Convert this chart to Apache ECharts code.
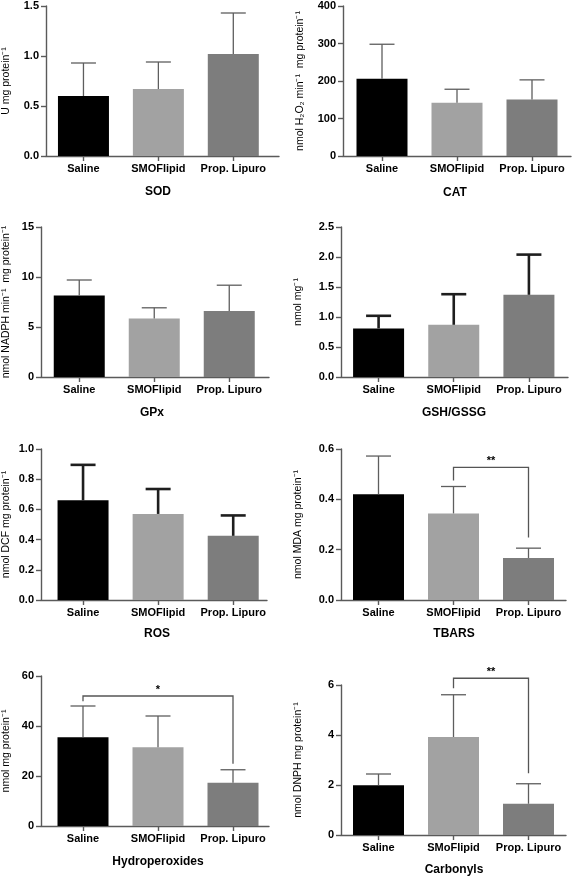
<!DOCTYPE html>
<html><head><meta charset="utf-8">
<script src="https://cdn.jsdelivr.net/npm/echarts@6/dist/echarts.min.js"></script>
<style>html,body{margin:0;padding:0;background:#fff}#c{width:572px;height:879px}</style>
</head><body><div id="c"></div><script>
// ---------- data ----------
const categories = ['Saline', 'SMOFlipid', 'Prop. Lipuro'];
const categoriesCarbonyls = ['Saline', 'SMoFlipid', 'Prop. Lipuro'];
const panelTitles = ['SOD', 'CAT', 'GPx', 'GSH/GSSG', 'ROS', 'TBARS', 'Hydroperoxides', 'Carbonyls'];
const yNames = ['U mg protein⁻¹', 'nmol H₂O₂ min⁻¹  mg protein⁻¹', 'nmol NADPH min⁻¹  mg protein⁻¹', 'nmol mg⁻¹',
  'nmol DCF mg protein⁻¹', 'nmol MDA mg protein⁻¹', 'nmol mg protein⁻¹', 'nmol DNPH mg protein⁻¹'];
const yMax = [1.5, 400, 15, 2.5, 1.0, 0.6, 60, 6];
const yStep = [0.5, 100, 5, 0.5, 0.2, 0.2, 20, 2];
const yDecimals = [1, 0, 0, 1, 1, 1, 0, 0];

const sodMean = [0.60, 0.67, 1.02];       const sodSD = [0.33, 0.27, 0.41];
const catMean = [206, 142, 151];          const catSD = [92, 36, 52];
const gpxMean = [8.15, 5.85, 6.6];        const gpxSD = [1.55, 1.07, 2.58];
const gshMean = [0.81, 0.87, 1.37];       const gshSD = [0.21, 0.51, 0.67];
const rosMean = [0.66, 0.57, 0.425];      const rosSD = [0.235, 0.165, 0.135];
const tbarsMean = [0.42, 0.344, 0.167];   const tbarsSD = [0.152, 0.107, 0.039];
const hydroMean = [35.5, 31.5, 17.3];     const hydroSD = [12.5, 12.5, 5.2];
const carbMean = [1.99, 3.92, 1.25];      const carbSD = [0.45, 1.69, 0.80];

// significance brackets: [fromCategory, toCategory, topValue, leftEndValue, rightEndValue]
const tbarsBracket = [2, 3, 0.527, 0.475, 0.248];     const tbarsStars = '**';
const hydroBracket = [1, 3, 52, 49.9, 24.9];          const hydroStars = '*';
const carbBracket = [2, 3, 6.27, 5.87, 2.47];         const carbStars = '**';

// ---------- styling / layout ----------
const barColors = ['#000000', '#a2a2a2', '#7d7d7d'];
const FONT = "'Liberation Sans', Arial, sans-serif";
const panels = [
  { mean: sodMean, sd: sodSD, cats: categories, left: 46, top: 6, width: 233, height: 150, xmin: 0.5, xmax: 3.61, gap: 34, eb: 'thin', tx: 158, ty: 192 },
  { mean: catMean, sd: catSD, cats: categories, left: 343, top: 6, width: 228, height: 150, xmin: 0.48, xmax: 3.52, gap: 37, eb: 'thin', tx: 455, ty: 193 },
  { mean: gpxMean, sd: gpxSD, cats: categories, left: 41, top: 227, width: 228, height: 150, xmin: 0.49, xmax: 3.53, gap: 29, eb: 'thin', tx: 152, ty: 413 },
  { mean: gshMean, sd: gshSD, cats: categories, left: 341, top: 227, width: 227, height: 150, xmin: 0.5, xmax: 3.52, gap: 37, eb: 'thick', tx: 454, ty: 413 },
  { mean: rosMean, sd: rosSD, cats: categories, left: 41, top: 449, width: 226, height: 151, xmin: 0.44, xmax: 3.45, gap: 29, eb: 'thick', tx: 157, ty: 634 },
  { mean: tbarsMean, sd: tbarsSD, cats: categories, left: 341, top: 449, width: 225, height: 151, xmin: 0.5, xmax: 3.5, gap: 37, eb: 'thin', tx: 454, ty: 634, bracket: tbarsBracket, stars: tbarsStars },
  { mean: hydroMean, sd: hydroSD, cats: categories, left: 41, top: 676, width: 228, height: 150, xmin: 0.44, xmax: 3.48, gap: 29, eb: 'thin', tx: 158, ty: 862, bracket: hydroBracket, stars: hydroStars },
  { mean: carbMean, sd: carbSD, cats: categoriesCarbonyls, left: 341, top: 685, width: 225, height: 150, xmin: 0.5, xmax: 3.5, gap: 37, eb: 'thin', tx: 454, ty: 870, bracket: carbBracket, stars: carbStars }
];

const AXIS_COLOR = '#5a5a5a';
const grids = [], xAxes = [], yAxes = [], series = [], graphics = [];

panels.forEach((p, i) => {
  grids.push({ left: p.left, top: p.top, width: p.width, height: p.height, containLabel: false });
  const cats = p.cats;
  xAxes.push({
    type: 'value', gridIndex: i, min: p.xmin, max: p.xmax,
    axisLine: { show: true, onZero: false, lineStyle: { color: AXIS_COLOR, width: 1.4 } },
    axisTick: { show: true, customValues: [1, 2, 3], length: 5, lineStyle: { color: AXIS_COLOR, width: 1.4 } },
    axisLabel: { customValues: [1, 2, 3], formatter: v => cats[Math.round(v) - 1] || '', margin: 7,
      color: '#000', fontFamily: FONT, fontWeight: 'bold', fontSize: 11 },
    splitLine: { show: false }
  });
  yAxes.push({
    type: 'value', gridIndex: i, min: 0, max: yMax[i], interval: yStep[i],
    name: yNames[i], nameLocation: 'middle', nameGap: p.gap, nameRotate: 90,
    nameTextStyle: { color: '#000', fontFamily: FONT, fontSize: 10.5 },
    axisLine: { show: true, lineStyle: { color: AXIS_COLOR, width: 1.4 } },
    axisTick: { show: true, length: 5, lineStyle: { color: AXIS_COLOR, width: 1.4 } },
    axisLabel: { margin: 7, color: '#000', fontFamily: FONT, fontWeight: 'bold', fontSize: 11,
      formatter: v => v.toFixed(yDecimals[i]) },
    splitLine: { show: false }
  });
  series.push({
    type: 'bar', xAxisIndex: i, yAxisIndex: i, barWidth: 51, silent: true,
    data: p.mean.map((v, k) => ({ value: [k + 1, v], itemStyle: { color: barColors[k] } }))
  });
  const ebW = p.eb === 'thick' ? 2.6 : 1.3;
  const ebC = p.eb === 'thick' ? '#1e1e1e' : '#5e5e5e';
  series.push({
    type: 'custom', xAxisIndex: i, yAxisIndex: i, silent: true, z: 3,
    encode: { x: 0, y: [1, 2] },
    data: p.mean.map((v, k) => [k + 1, v, p.sd[k]]),
    renderItem: (params, api) => {
      const x = api.value(0), m = api.value(1), s = api.value(2);
      const lo = api.coord([x, m]);
      const hi = api.coord([x, m + s]);
      return { type: 'group', children: [
        { type: 'line', shape: { x1: lo[0], y1: lo[1], x2: hi[0], y2: hi[1] }, style: { stroke: ebC, lineWidth: ebW } },
        { type: 'line', shape: { x1: hi[0] - 12.5, y1: hi[1], x2: hi[0] + 12.5, y2: hi[1] }, style: { stroke: ebC, lineWidth: ebW } }
      ] };
    }
  });
  if (p.bracket) {
    const stars = p.stars;
    series.push({
      type: 'custom', xAxisIndex: i, yAxisIndex: i, silent: true, z: 4, clip: false,
      encode: { x: [0, 1], y: [2, 3, 4] },
      data: [p.bracket],
      renderItem: (params, api) => {
        const a = api.value(0), b = api.value(1), top = api.value(2), le = api.value(3), re = api.value(4);
        const pTL = api.coord([a, top]), pTR = api.coord([b, top]);
        const pL = api.coord([a, le]), pR = api.coord([b, re]);
        return { type: 'group', children: [
          { type: 'polyline', shape: { points: [pL, pTL, pTR, pR] }, style: { stroke: '#555', lineWidth: 1.3, fill: null } },
          { type: 'text', x: (pTL[0] + pTR[0]) / 2, y: pTL[1] - 1,
            style: { text: stars, fill: '#000', font: 'bold 11px ' + FONT, align: 'center', verticalAlign: 'bottom' } }
        ] };
      }
    });
  }
  graphics.push({ type: 'text', x: p.tx, y: p.ty,
    style: { text: panelTitles[i], fill: '#000', font: 'bold 12px ' + FONT, align: 'center', verticalAlign: 'middle' } });
});

const chart = echarts.init(document.getElementById('c'), null, { renderer: 'canvas' });
chart.setOption({
  animation: false,
  backgroundColor: '#fff',
  grid: grids, xAxis: xAxes, yAxis: yAxes, series: series, graphic: graphics
});
</script></body></html>
